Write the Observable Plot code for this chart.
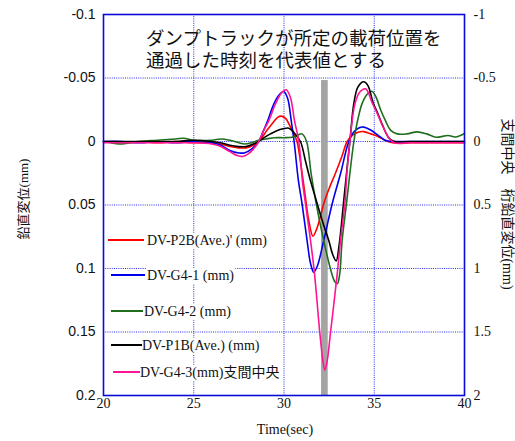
<!DOCTYPE html>
<html><head><meta charset="utf-8">
<script src="https://cdn.jsdelivr.net/npm/d3@7"></script>
<script src="https://cdn.jsdelivr.net/npm/@observablehq/plot@0.6"></script>
<style>html,body{margin:0;padding:0;background:#fff} svg{display:block}</style>
</head><body><div id="chart"></div>
<script>
// ---- data ----
const xTicks = [20, 25, 30, 35, 40];
const xTickLabels = ["20", "25", "30", "35", "40"];
const leftTicks = [-0.1, -0.05, 0, 0.05, 0.1, 0.15, 0.2];
const leftTickLabels = ["-0.1", "-0.05", "0", "0.05", "0.1", "0.15", "0.2"];
const rightTicks = [-1, -0.5, 0, 0.5, 1, 1.5, 2];
const rightTickLabels = ["-1", "-0.5", "0", "0.5", "1", "1.5", "2"];
const xTitle = "Time(sec)";
const leftTitle = "鉛直変位(mm)";
const rightTitle = "支間中央　桁鉛直変位(mm)";
const annotation = ["ダンプトラックが所定の載荷位置を", "通過した時刻を代表値とする"];
const seriesNames = ["DV-P2B(Ave.)' (mm)", "DV-G4-1 (mm)", "DV-G4-2 (mm)", "DV-P1B(Ave.) (mm)", "DV-G4-3(mm)支間中央"];
const seriesColors = ["#ff0000", "#0000ee", "#1e6e1e", "#000000", "#ff1493"];
// passing time band (sec) and its vertical extent (left axis, mm)
const band = [{t1: 32.08, t2: 32.45, top: -0.048, bottom: 0.2}];

// [time sec, displacement mm] – left axis
const p2b = [[20,0.000],[21,0.001],[22,0.000],[23,0.001],[24,0.000],[25,0.001],[26,0.001],[26.5,0.002],[27,0.004],[27.5,0.005],[27.9,0.005],[28.3,0.003],[28.6,0.000],[29.07,-0.009],[29.4,-0.015],[29.65,-0.019],[29.86,-0.020],[30.1,-0.018],[30.3,-0.013],[30.45,-0.0087],[30.72,0.000],[30.95,0.020],[31.15,0.040],[31.37,0.062],[31.6,0.0745],[31.78,0.070],[32.0,0.060],[32.2,0.049],[32.5,0.037],[32.85,0.025],[33.2,0.012],[33.5,0.000],[33.8,-0.005],[34.1,-0.0072],[34.42,-0.0078],[34.8,-0.006],[35.2,-0.004],[35.6,-0.001],[36.0,0.001],[37,0.001],[38,0.001],[39,0.001],[40,0.001]];
const g41 = [[20,0.000],[21,0.000],[22,0.001],[23,0.000],[24,0.001],[25,0.000],[26,0.001],[26.5,0.003],[27,0.007],[27.5,0.009],[27.8,0.009],[28.2,0.006],[28.6,0.000],[28.85,-0.008],[29.1,-0.0165],[29.44,-0.0297],[29.75,-0.037],[29.99,-0.0394],[30.2,-0.034],[30.4,-0.0165],[30.56,0.000],[30.8,0.031],[31.0,0.049],[31.28,0.078],[31.47,0.096],[31.65,0.103],[31.85,0.098],[32.2,0.078],[32.67,0.049],[33.13,0.0254],[33.59,0.000],[33.9,-0.008],[34.2,-0.011],[34.42,-0.0113],[34.8,-0.009],[35.2,-0.005],[35.6,-0.001],[36.0,0.000],[37,0.000],[38,0.000],[39,0.000],[40,0.000]];
const g42 = [[20,0.000],[21,0.002],[21.5,0.001],[22,0.000],[23,-0.001],[24,-0.002],[24.45,-0.0026],[25,-0.001],[26,-0.001],[26.5,-0.002],[27,-0.001],[27.5,0.001],[27.8,0.002],[28.2,0.001],[28.6,-0.001],[29.0,-0.002],[29.5,-0.003],[30.0,-0.003],[30.45,-0.0034],[30.75,-0.005],[31.0,-0.006],[31.25,0.000],[31.5,0.025],[31.8,0.050],[32.2,0.078],[32.55,0.099],[32.8,0.110],[32.95,0.112],[33.08,0.105],[33.22,0.078],[33.46,0.049],[33.87,0.000],[34.1,-0.018],[34.33,-0.030],[34.6,-0.037],[34.87,-0.0396],[35.1,-0.035],[35.35,-0.025],[35.62,-0.0165],[35.9,-0.009],[36.27,-0.006],[36.8,-0.006],[37.38,-0.0076],[37.9,-0.006],[38.4,-0.0034],[39.1,-0.0047],[39.5,-0.0035],[40,-0.0063]];
const p1b = [[20,0.000],[21,0.000],[22,0.000],[23,0.000],[24,0.000],[25,-0.001],[26,0.000],[26.5,0.001],[27,0.003],[27.5,0.004],[27.9,0.004],[28.3,0.002],[28.6,0.000],[28.9,-0.003],[29.25,-0.006],[29.6,-0.0085],[29.95,-0.010],[30.27,-0.0105],[30.55,-0.007],[30.91,0.000],[31.2,0.016],[31.47,0.031],[31.84,0.049],[32.2,0.066],[32.48,0.078],[32.7,0.089],[32.89,0.094],[33.05,0.082],[33.3,0.048],[33.5,0.020],[33.65,0.000],[33.87,-0.030],[34.1,-0.043],[34.42,-0.047],[34.65,-0.044],[34.95,-0.030],[35.2,-0.022],[35.44,-0.0135],[35.8,-0.003],[36.1,0.000],[37,0.000],[38,0.000],[39,0.000],[40,0.000]];
// [time sec, displacement mm] – right axis (支間中央)
const g43 = [[20,0.01],[21,0.01],[22,0.01],[23,0.01],[24,0.01],[25,0.01],[26,0.02],[26.5,0.04],[27,0.08],[27.4,0.11],[27.7,0.118],[28.0,0.10],[28.3,0.06],[28.6,0.00],[28.85,-0.08],[29.16,-0.165],[29.53,-0.297],[29.85,-0.38],[30.12,-0.407],[30.35,-0.35],[30.58,-0.165],[30.82,0.00],[31.02,0.31],[31.19,0.49],[31.47,0.78],[31.69,1.04],[31.98,1.50],[32.15,1.72],[32.26,1.80],[32.4,1.72],[32.58,1.50],[32.95,1.04],[33.13,0.78],[33.37,0.49],[33.5,0.22],[33.65,0.00],[33.93,-0.297],[34.2,-0.39],[34.52,-0.415],[34.9,-0.30],[35.2,-0.21],[35.44,-0.13],[35.8,-0.03],[36.1,0.01],[37,0.01],[38,0.01],[39,0.01],[40,0.01]];
const rightToLeft = 0.1; // right axis (-1..2) spans 10× the left axis (-0.1..0.2)

const seriesData = [p2b, g41, g42, p1b, g43.map(([t, v]) => [t, v * rightToLeft])];

// ---- layout ----
const W = 515, H = 441;
const mL = 103, mR = 51, mT = 14, mB = 46;
const gridColor = "#2a2af0";
const frameColor = "#0a0ad8";
const serif = "'Liberation Serif','Times New Roman','Noto Sans CJK JP',serif";
const sans = "'Liberation Sans',Arial,sans-serif";
const cjkSerif = "'Liberation Serif','Noto Sans CJK JP',serif";

const lineMarks = seriesData.map((s, i) => Plot.line(s, {
  x: d => d[0], y: d => d[1], stroke: seriesColors[i], strokeWidth: 1.6, curve: "catmull-rom"
}));

const plot = Plot.plot({
  width: W, height: H,
  marginLeft: mL, marginRight: mR, marginTop: mT, marginBottom: mB,
  x: {domain: [20, 40], axis: null},
  y: {domain: [0.2, -0.1], axis: null},
  style: {background: "#fff", overflow: "visible"},
  marks: [
    Plot.ruleX(xTicks.slice(1, -1), {stroke: gridColor, strokeWidth: 1, strokeDasharray: "1,1.2"}),
    Plot.ruleY(leftTicks.slice(1, -1), {stroke: gridColor, strokeWidth: 1, strokeDasharray: "1,1.2"}),
    Plot.rect(band, {x1: "t1", x2: "t2", y1: "top", y2: "bottom", fill: "#a4a4a4"}),
    ...lineMarks,
    Plot.text(leftTicks, {y: d => d, text: (d, i) => leftTickLabels[i], frameAnchor: "left", textAnchor: "end", dx: -8, fontSize: 14, fontFamily: sans, fill: "#111"}),
    Plot.text(rightTicks, {y: d => d * rightToLeft, text: (d, i) => rightTickLabels[i], frameAnchor: "right", textAnchor: "start", dx: 9, fontSize: 14, fontFamily: serif, fill: "#111"}),
    Plot.text(xTicks, {x: d => d, text: (d, i) => xTickLabels[i], frameAnchor: "bottom", lineAnchor: "top", dy: 3, fontSize: 14, fontFamily: serif, fill: "#111"}),
    Plot.frame({stroke: frameColor, strokeWidth: 1.6})
  ]
});
document.getElementById("chart").appendChild(plot);

const svg = d3.select(plot);

// axis titles
svg.append("text").attr("x", 285).attr("y", 434).attr("text-anchor", "middle")
  .attr("font-family", serif).attr("font-size", 14).attr("fill", "#111").text(xTitle);
svg.append("text").attr("transform", "translate(28,199) rotate(-90)").attr("text-anchor", "middle")
  .attr("font-family", cjkSerif).attr("font-size", 13).attr("fill", "#111").text(leftTitle);
svg.append("text").attr("transform", "translate(503,204) rotate(90)").attr("text-anchor", "middle")
  .attr("font-family", cjkSerif).attr("font-size", 14).attr("fill", "#111").text(rightTitle);

// annotation (one text block, two lines)
const ann = svg.append("text").attr("font-family", "'Noto Sans CJK JP',sans-serif").attr("font-size", 18.5)
  .attr("fill", "#111").attr("text-anchor", "start").attr("x", 146).attr("y", 45);
annotation.forEach((s, i) => ann.append("tspan").attr("x", 146).attr("dy", i === 0 ? 0 : 22).text(s));

// legend
const legendY = [240, 275, 311, 345, 372];
const legendLine = [[108, 144], [111, 145], [111, 143], [111, 142], [113, 140]];
const legendTextX = [147, 147, 144, 142, 140];
const lg = svg.append("g").attr("text-anchor", "start");
seriesNames.forEach((name, i) => {
  const g = lg.append("g");
  const rect = g.append("rect").attr("fill", "#fff");
  const t = g.append("text").attr("x", legendTextX[i]).attr("y", legendY[i]).attr("dy", "0.35em")
    .attr("text-anchor", "start")
    .attr("font-family", cjkSerif).attr("font-size", 14).attr("fill", "#111").text(name);
  const bb = t.node().getBBox();
  rect.attr("x", bb.x - 1).attr("y", bb.y).attr("width", bb.width + 2).attr("height", bb.height);
  g.append("line").attr("x1", legendLine[i][0]).attr("x2", legendLine[i][1])
    .attr("y1", legendY[i]).attr("y2", legendY[i]).attr("stroke", seriesColors[i]).attr("stroke-width", 2);
});
</script></body></html>
